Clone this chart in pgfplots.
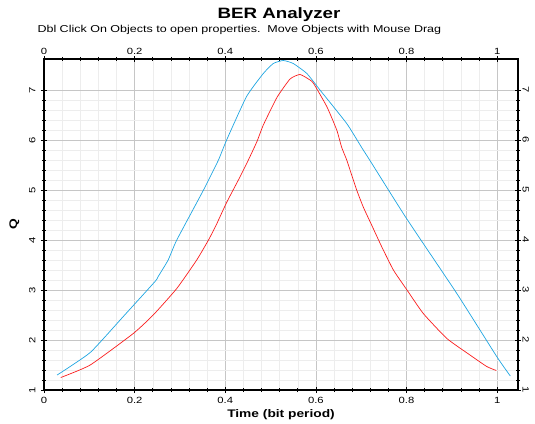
\documentclass[border=0pt]{standalone}
\usepackage{fontspec}
\setmainfont{Liberation Sans}[FakeStretch=1.25]
\usepackage{pgfplots}
\pgfplotsset{compat=1.18}
\definecolor{berblue}{RGB}{30,165,225}
\definecolor{berred}{RGB}{250,30,30}
\begin{document}
\begin{tikzpicture}
\path[use as bounding box] (0pt,0pt) rectangle (535pt,423pt);
\node[font=\bfseries\fontsize{15}{17}\selectfont] at (279pt,408pt) {BER Analyzer};
\node[anchor=west,font=\fontsize{10}{12}\selectfont] at (34pt,393pt) {Dbl Click On Objects to open properties.\ \ Move Objects with Mouse Drag};
\pgfplotsset{
  berframe/.style={
    at={(44pt,33pt)}, anchor=south west,
    width=474pt, height=331pt, scale only axis,
    xmin=0, xmax=1.046, ymin=1, ymax=7.62,
    xtick={0,0.2,0.4,0.6,0.8,1}, ytick={1,2,3,4,5,6,7},
    /pgf/number format/assume math mode=true,
    tick label style={font=\fontsize{9}{10}\selectfont},
  }
}
\begin{axis}[berframe,
  minor x tick num=4, minor y tick num=4,
  grid=both,
  major grid style={gray!45},
  minor grid style={gray!14},
  tick align=center,
  major tick length=6pt, minor tick length=4pt,
  tick style={black, line width=0.7pt},
  axis line style={black, line width=1.1pt},
  xticklabel pos=lower, yticklabel pos=left,
  yticklabel style={rotate=90, anchor=south, yshift=2pt},
  xticklabel style={yshift=-1pt},
  xlabel={\bfseries Time (bit period)},
  ylabel={\bfseries Q},
  xlabel style={font=\fontsize{11}{12}\selectfont, yshift=1pt},
  ylabel style={font=\fontsize{11}{12}\selectfont, yshift=3pt},
]
\addplot[berblue, line width=0.7pt, smooth, tension=0.3] coordinates {
(0.029,1.30) (0.102,1.75) (0.175,2.47) (0.245,3.17) (0.252,3.27)
(0.274,3.60) (0.293,4.00) (0.352,5.00) (0.385,5.60) (0.403,6.00)
(0.447,6.87) (0.484,7.33) (0.506,7.53) (0.528,7.59) (0.550,7.53)
(0.580,7.33) (0.609,7.00) (0.668,6.33) (0.701,5.85) (0.720,5.58)
(0.800,4.43) (0.911,2.93) (0.999,1.67) (1.029,1.28)
};
\addplot[berred, line width=0.7pt, smooth, tension=0.3] coordinates {
(0.037,1.25) (0.102,1.50) (0.197,2.13) (0.241,2.50) (0.293,3.03)
(0.337,3.60) (0.363,4.00) (0.380,4.30) (0.403,4.75) (0.433,5.27)
(0.451,5.60) (0.470,5.97) (0.484,6.30) (0.514,6.85) (0.543,7.22)
(0.565,7.31) (0.587,7.20) (0.595,7.13) (0.624,6.67) (0.646,6.20)
(0.657,5.85) (0.668,5.60) (0.690,5.00) (0.705,4.65) (0.723,4.30)
(0.745,3.87) (0.771,3.40) (0.801,3.00) (0.837,2.53) (0.889,2.03)
(0.940,1.70) (0.977,1.47) (0.998,1.39)
};
\end{axis}
\begin{axis}[berframe,
  axis line style={draw=none},
  major tick length=0pt,
  xticklabel pos=upper, yticklabel pos=right,
  xticklabel style={yshift=1pt},
  yticklabel style={rotate=-90, anchor=south, yshift=1pt},
]
\end{axis}
\end{tikzpicture}
\end{document}
